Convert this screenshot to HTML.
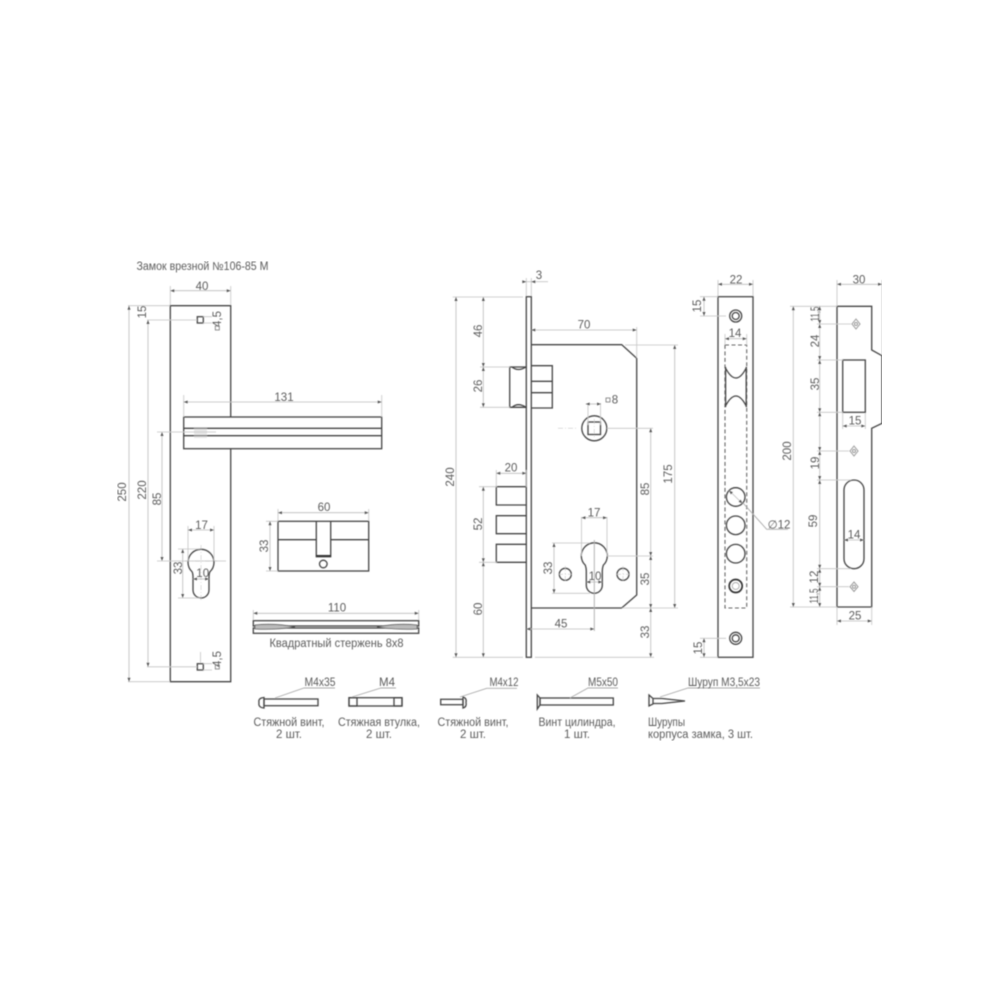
<!DOCTYPE html>
<html><head><meta charset="utf-8">
<style>
html,body{margin:0;padding:0;background:#fff}
svg{display:block}
.m{fill:none;stroke:#444;stroke-width:1.3}
.h{fill:none;stroke:#333;stroke-width:1.7}
.d{fill:none;stroke:#c4c4c4;stroke-width:.8}
.a{fill:none;stroke:#bbb;stroke-width:.8;marker-start:url(#ar);marker-end:url(#ar)}
.l{fill:none;stroke:#aaa;stroke-width:.9}
.f{fill:none;stroke:#666;stroke-width:1.1;stroke-dasharray:4 2.5}
.c{fill:none;stroke:#bbb;stroke-width:.5;stroke-dasharray:5 2 1 2}
text{font-family:"Liberation Sans Narrow","Liberation Sans",sans-serif;font-size:11.5px;fill:#5c5c5c;text-anchor:middle}
.s{text-anchor:start}
</style></head><body>
<svg width="1000" height="1000" viewBox="0 0 1000 1000" xmlns="http://www.w3.org/2000/svg">
<defs>
<marker id="ar" markerWidth="5" markerHeight="5" refX="4.5" refY="2.5" orient="auto-start-reverse" markerUnits="userSpaceOnUse"><path d="M.5 1 L4.5 2.5 L.5 4Z" fill="#555"/></marker>
<filter id="b" x="0" y="0" width="100%" height="100%"><feGaussianBlur stdDeviation="0.5"/></filter>
</defs>
<rect width="1000" height="1000" fill="#fff"/>
<g filter="url(#b)">
<!-- title -->
<text class="s" x="136.5" y="270" textLength="132" lengthAdjust="spacingAndGlyphs">Замок врезной №106-85 М</text>

<!-- handle plate -->
<path class="m" d="M230.7 417V305.700H170.300V681.700H230.700V448.700"/>
<rect class="m" x="183.7" y="417" width="198" height="31.7" fill="#fff"/>
<path class="m" d="M183.7 428.3H381.7M183.7 435.7H381.7"/>
<rect x="194" y="427" width="13" height="11" fill="#ccc" opacity=".45"/>
<rect class="m" x="197.3" y="316.7" width="6" height="6.3"/>
<rect class="m" x="197.3" y="663.7" width="6" height="6.3"/>
<path class="d" d="M203 316.7H212M203 323H212M203 663.7H212M203 670H212M200.5 652V663"/>
<path class="d" d="M128 305.7H170M147 320H197M147 666.8H197M128 681.7H170M170.3 286V305M230.7 286V305M183.7 395V417M381.7 395V417"/>
<path class="a" d="M170.3 290.7H230.7"/>
<path class="a" d="M183.7 402H381.7"/>
<path class="a" d="M129 305.7V681.7"/>
<path class="a" d="M148 320V666.8"/>
<path class="a" d="M162 432V561"/>
<path class="d" d="M157 432H216M157 561H226"/>
<text x="202" y="290">40</text>
<text x="284" y="401">131</text>
<text transform="translate(142,312) rotate(-90)" y="4">15</text>
<text transform="translate(122,492) rotate(-90)" y="4">250</text>
<text transform="translate(142,490) rotate(-90)" y="4">220</text>
<text transform="translate(157,499) rotate(-90)" y="4">85</text>
<text transform="translate(217,319) rotate(-90)" y="4">4,5</text>
<text transform="translate(217,659) rotate(-90)" y="4">4,5</text>
<rect x="215.3" y="326" width="4" height="4" fill="none" stroke="#777" stroke-width=".8"/>
<rect x="215.3" y="665" width="4" height="4" fill="none" stroke="#777" stroke-width=".8"/>
<!-- keyhole plate -->
<path class="m" d="M193 590A8 8 0 0 0 209 590V577Q209 573.500 210 571.700A13 13 0 1 0 192 571.700Q193 573.500 193 577Z"/>
<path class="d" d="M188 526V561M214 526V561M178 549H200M178 598H200"/>
<path class="a" d="M188 530H214"/>
<path class="a" d="M182.700 549V598"/>
<path class="a" d="M193 579H209"/>
<path class="c" d="M201 545V600M185 561H217"/>
<text x="201.500" y="529">17</text>
<text x="202.700" y="577">10</text>
<text transform="translate(178,568) rotate(-90)" y="4">33</text>

<!-- cylinder -->
<rect class="m" x="278" y="521.300" width="90.700" height="49.700"/>
<path class="m" d="M278 539.700H316M331 539.700H368.700"/>
<path class="m" d="M316.300 521.300V556.700H330.700V521.300"/>
<path class="h" d="M316.300 555.800H330.700"/>
<circle class="m" cx="323.300" cy="564" r="3.800"/>
<path class="d" d="M278 509V521M368.700 509V521M266 521.300H278M266 571H278"/>
<path class="a" d="M278 512.700H368.700"/>
<path class="a" d="M270 521.300V571"/>
<text x="324" y="511">60</text>
<text transform="translate(264,546) rotate(-90)" y="4">33</text>

<!-- square bar -->
<rect class="m" x="253.300" y="620.700" width="165.400" height="5.300"/>
<rect class="m" x="253.300" y="628" width="165.400" height="5.300"/>
<path d="M255 625Q275 623 295 627Q275 630 255 629Z" fill="#bbb" stroke="#555" stroke-width=".8"/>
<path d="M417 625Q397 623 377 627Q397 630 417 629Z" fill="#bbb" stroke="#555" stroke-width=".8"/>
<path class="d" d="M253.300 610V620M418.700 610V620"/>
<path class="a" d="M253.300 613.300H418.700"/>
<text x="337" y="611.300">110</text>
<text x="336.500" y="647" textLength="134" lengthAdjust="spacingAndGlyphs">Квадратный стержень 8х8</text>

<!-- M4x35 -->
<path class="m" d="M264 697.500Q258 698 259 702.500Q258 707.500 264 708Z"/>
<rect class="m" x="264" y="699" width="54" height="6.700"/>
<path class="l" d="M275 698L304 688H335"/>
<text x="320" y="686" textLength="31" lengthAdjust="spacingAndGlyphs">М4х35</text>
<text x="289" y="726" textLength="71" lengthAdjust="spacingAndGlyphs">Стяжной винт,</text>
<text x="289" y="738">2 шт.</text>
<!-- M4 -->
<rect class="m" x="349" y="697.700" width="53" height="8.300"/>
<rect class="m" x="349" y="697.700" width="8" height="8.300"/>
<rect class="m" x="394" y="697.700" width="8" height="8.300"/>
<path class="l" d="M352 697L381 688H396"/>
<text x="387" y="686">М4</text>
<text x="379" y="726" textLength="82" lengthAdjust="spacingAndGlyphs">Стяжная втулка,</text>
<text x="379" y="738">2 шт.</text>
<!-- M4x12 -->
<rect class="m" x="440.700" y="699.300" width="22.300" height="5.400"/>
<path class="m" d="M463 697V708Q467 707 466 702.500Q467 698 463 697Z"/>
<path class="l" d="M460 697L486.700 688.300H517"/>
<text x="504" y="686" textLength="29" lengthAdjust="spacingAndGlyphs">М4х12</text>
<text x="473" y="726" textLength="71" lengthAdjust="spacingAndGlyphs">Стяжной винт,</text>
<text x="473" y="738">2 шт.</text>
<!-- M5x50 -->
<path class="m" d="M537.300 695L540 698V705L537.300 709Z"/>
<rect class="m" x="540" y="698" width="73.300" height="7"/>
<path class="l" d="M570 698L588 688H618"/>
<text x="603" y="686" textLength="30" lengthAdjust="spacingAndGlyphs">М5х50</text>
<text x="577" y="726" textLength="77" lengthAdjust="spacingAndGlyphs">Винт цилиндра,</text>
<text x="577" y="738">1 шт.</text>
<!-- screw -->
<path class="m" d="M649 695L653 698.500V704L649 706Z"/>
<path class="m" d="M653 698.500H662L685 701L662 703.500H653"/>
<path class="l" d="M660 697L688 688H760"/>
<text class="s" x="688" y="686" textLength="72" lengthAdjust="spacingAndGlyphs">Шуруп М3,5х23</text>
<text class="s" x="648" y="726" textLength="37" lengthAdjust="spacingAndGlyphs">Шурупы</text>
<text class="s" x="648" y="738" textLength="105" lengthAdjust="spacingAndGlyphs">корпуса замка, 3 шт.</text>

<!-- lock body -->
<rect class="m" x="526.300" y="296.700" width="5" height="360.600"/>
<path class="m" d="M531.300 344.700H621.700L636.700 358.300V595L621.700 608H531.300"/>
<path class="m" d="M526.300 367H509.700V407.300H526.300"/>
<path class="m" d="M512 367Q518 372 526 367M512 407.300Q518 402 526 407.300" stroke-width=".8"/>
<path class="m" d="M531.300 365.700H552.300V408H531.300M531.300 381.300H552.300M531.300 392.700H552.300"/>
<path class="m" d="M526.300 486.700H496.300V505H526.300M526.300 515.700H496.300V533.700H526.300M526.300 544.300H496.300V562.300H526.300"/>
<circle class="m" cx="594.300" cy="428.300" r="12.500"/>
<rect class="m" x="588" y="422" width="12.500" height="12.500"/>
<path class="c" d="M594.300 419V438M558 428.300H578"/>
<path class="m" d="M586.300 585.300A8 8 0 0 0 602.300 585.300V571Q602.300 568 603.300 565.200A13 13 0 1 0 585.300 565.200Q586.300 568 586.300 571Z"/>
<circle class="m" cx="565.300" cy="574.300" r="6"/>
<circle class="m" cx="623" cy="574.300" r="6"/>
<path class="c" d="M565.300 566V582M558 574.300H572M623 566V582M616 574.300H630"/>
<path class="l" d="M594.300 540V631"/>
<path class="d" d="M452.700 297H523M452.700 657.300H523M535 657.300H654M480 367H510M480 407.300H510M479 486.700H497M479 562.300H497M625 345H678M622 608H678M607 428.300H653M607 556H653M552 543H590M552 593.300H590M581.500 517V556M607 517V556M588 403V425M600.500 403V425M526.300 278V296M531.300 278V296M636.700 327V358M496.300 470V487M526.300 470V487"/>
<path class="d" d="M523 281.700H548"/>
<path class="a" d="M522.500 281.700H526.300" style="marker-start:none"/>
<path class="a" d="M531.300 281.700H535" style="marker-end:none"/>
<path class="a" d="M531.300 330H636.700"/>
<path class="a" d="M456 297V657.300"/>
<path class="a" d="M483.300 297V367"/>
<path class="a" d="M483.300 367V407.300"/>
<path class="a" d="M483.300 486.700V562.300"/>
<path class="a" d="M483.300 562.300V657.300"/>
<path class="a" d="M674.700 345V608"/>
<path class="a" d="M650.700 428.300V556"/>
<path class="a" d="M650.700 556V608"/>
<path class="a" d="M650.700 608V657.300"/>
<path class="a" d="M496.300 473.300H526.300"/>
<path class="a" d="M581.500 517.700H607"/>
<path class="a" d="M554 543V593.300"/>
<path class="a" d="M586.300 582H602.300"/>
<path class="a" d="M526.300 629H594.300"/>
<path class="a" d="M585.700 404H601"/>
<text x="539" y="279">3</text>
<text x="584" y="328.300">70</text>
<text x="615" y="403.300">8</text>
<rect x="606" y="398" width="4" height="4" fill="none" stroke="#777" stroke-width=".8"/>
<text x="511" y="471.300">20</text>
<text x="594" y="516.300">17</text>
<text x="595" y="580">10</text>
<text x="561" y="627.600">45</text>
<text transform="translate(450,477) rotate(-90)" y="4">240</text>
<text transform="translate(478,331) rotate(-90)" y="4">46</text>
<text transform="translate(478,386) rotate(-90)" y="4">26</text>
<text transform="translate(478,524) rotate(-90)" y="4">52</text>
<text transform="translate(478,609) rotate(-90)" y="4">60</text>
<text transform="translate(668,474) rotate(-90)" y="4">175</text>
<text transform="translate(645,489) rotate(-90)" y="4">85</text>
<text transform="translate(645,579) rotate(-90)" y="4">35</text>
<text transform="translate(645,632) rotate(-90)" y="4">33</text>
<text transform="translate(548,568) rotate(-90)" y="4">33</text>

<!-- front strip -->
<rect class="m" x="718" y="296.700" width="35" height="360.600"/>
<rect class="f" x="725" y="345" width="21.700" height="263"/>
<path class="m" d="M725 367Q736 389 746.700 367M725 407Q736 385 746.700 407M725.600 367V407M746.200 367V407"/>
<circle class="m" cx="735.700" cy="316" r="6"/><circle class="m" cx="735.700" cy="316" r="3.500"/>
<circle class="m" cx="735.700" cy="638.300" r="6"/><circle class="m" cx="735.700" cy="638.300" r="3.500"/>
<circle class="m" cx="735.700" cy="497" r="9.300" fill="#fff"/>
<circle class="m" cx="735.700" cy="525.300" r="9.300" fill="#fff"/>
<circle class="m" cx="735.700" cy="553.700" r="9.300" fill="#fff"/>
<circle class="h" cx="735.700" cy="586" r="6.500" fill="#fff"/>
<circle class="l" cx="735.700" cy="586" r="3.500"/>
<path class="a" d="M729 490.500L742.500 503.500"/>
<path class="l" d="M743 503L766.700 529.300H788"/>
<text x="779" y="528.300">∅12</text>
<path class="d" d="M718 280V296M753 280V296M700 296.700H718M700 316H726M700 638.300H726M700 657.300H718M725 334V345M746.700 334V345"/>
<path class="a" d="M718 284.300H753"/>
<path class="a" d="M704 296.700V316"/>
<path class="a" d="M704 638.300V657.300"/>
<path class="a" d="M725 338.700H746.700"/>
<text x="736" y="283.600">22</text>
<text x="735" y="337">14</text>
<text transform="translate(697,306) rotate(-90)" y="4">15</text>
<text transform="translate(698,648) rotate(-90)" y="4">15</text>

<!-- strike plate -->
<path class="m" d="M837 306.300H871.700V350L882 355.700V423.300L871.700 428.300V607H837Z"/>
<rect class="m" x="842.700" y="360" width="22.600" height="52.300"/>
<rect class="m" x="844" y="480" width="20" height="88.700" rx="10"/>
<g fill="none" stroke="#999" stroke-width="1">
<path d="M856 319L860 324L856 329L852 324Z"/><circle cx="856" cy="324" r="1.500"/>
<path d="M854 446L858 451L854 456L850 451Z"/><circle cx="854" cy="451" r="1.500"/>
<path d="M854 582L858 586.700L854 591.500L850 586.700Z"/><circle cx="854" cy="586.700" r="1.500"/>
</g>
<path class="d" d="M790 306.300H837M790 607H837M817 324H851M817 360H843M817 412.300H843M817 451H849M817 480H851M817 568.700H851M817 586.700H849M837 280V306M882 280V355M837 607V625M871.700 607V625M842.700 413V429M865.300 413V429"/>
<path class="a" d="M837 284.300H882"/>
<path class="a" d="M837 621H871.700"/>
<path class="a" d="M793.300 306.300V607"/>
<path class="a" d="M819.700 306.300V324"/>
<path class="a" d="M819.700 324V360"/>
<path class="a" d="M819.700 360V412.300"/>
<path class="a" d="M819.700 412.300V451"/>
<path class="a" d="M819.700 451V480"/>
<path class="a" d="M819.700 480V568.700"/>
<path class="a" d="M819.700 568.700V586.700"/>
<path class="a" d="M819.700 586.700V607"/>
<path class="a" d="M842.700 426H865.300"/>
<path class="a" d="M844 540H864"/>
<text x="859" y="283.300">30</text>
<text x="855" y="619.300">25</text>
<text x="855" y="424.300">15</text>
<text x="854" y="538.300">14</text>
<text transform="translate(787,451) rotate(-90)" y="4">200</text>
<text transform="translate(815,314) rotate(-90)" y="4" textLength="15" lengthAdjust="spacingAndGlyphs">11,5</text>
<text transform="translate(815,341) rotate(-90)" y="4">24</text>
<text transform="translate(815,384) rotate(-90)" y="4">35</text>
<text transform="translate(815,463) rotate(-90)" y="4">19</text>
<text transform="translate(813,521) rotate(-90)" y="4">59</text>
<text transform="translate(814,577) rotate(-90)" y="4">12</text>
<text transform="translate(814,596) rotate(-90)" y="4" textLength="15" lengthAdjust="spacingAndGlyphs">11,5</text>
</g>
</svg>
</body></html>
